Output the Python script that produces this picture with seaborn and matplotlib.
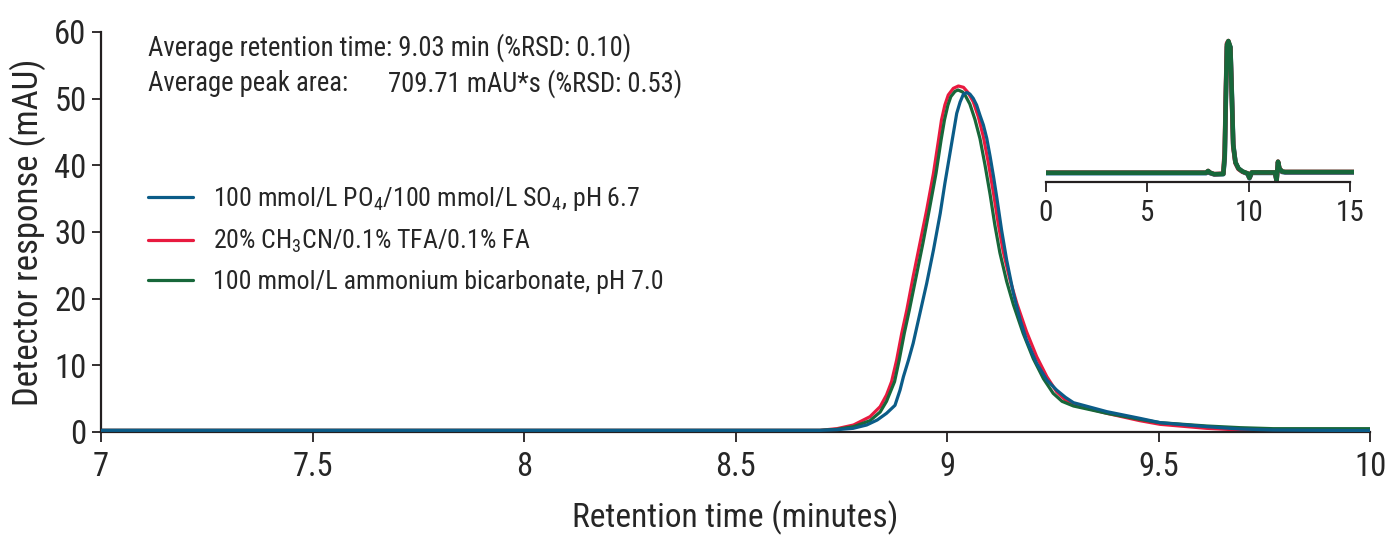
import numpy as np
import pandas as pd
import matplotlib
matplotlib.use("Agg")
import matplotlib.pyplot as plt
import seaborn as sns

# ---- data ----
labels = [r"100 mmol/L PO$_4$/100 mmol/L SO$_4$, pH 6.7",
          r"20% CH$_3$CN/0.1% TFA/0.1% FA",
          "100 mmol/L ammonium bicarbonate, pH 7.0"]
colors = ["#0b5c88", "#e81a3f", "#17673a"]

blue_time = [7.0, 8.70, 8.74, 8.778, 8.81, 8.835, 8.857, 8.877, 8.889, 8.897, 8.909, 8.920,
             8.936, 8.952, 8.968, 8.984, 8.995, 9.007, 9.015, 9.023, 9.031, 9.039, 9.047,
             9.054, 9.062, 9.070, 9.078, 9.086, 9.094, 9.102, 9.110, 9.118, 9.129, 9.141,
             9.157, 9.173, 9.188, 9.212, 9.236, 9.259, 9.280, 9.299, 9.378, 9.456, 9.504,
             9.614, 9.693, 9.771, 10.0]
blue_resp = [0.25, 0.25, 0.35, 0.55, 1.05, 1.8, 2.8, 4.0, 6.3, 8.3, 10.8, 13.3,
             17.8, 22.3, 27.3, 32.8, 37.3, 41.8, 44.8, 47.8, 49.5, 50.7, 50.9,
             50.7, 50.05, 49.05, 47.5, 46.05, 44.05, 41.3, 38.3, 35.05, 30.3, 25.8,
             20.8, 16.8, 13.8, 10.3, 7.8, 6.3, 5.2, 4.4, 3.05, 2.05, 1.4,
             0.8, 0.45, 0.3, 0.2]

red_time = [7.0, 8.70, 8.74, 8.779, 8.818, 8.842, 8.857, 8.869, 8.881, 8.893, 8.905, 8.920,
            8.936, 8.952, 8.968, 8.980, 8.987, 8.995, 9.003, 9.015, 9.027, 9.039, 9.050,
            9.062, 9.074, 9.086, 9.098, 9.110, 9.121, 9.133, 9.149, 9.165, 9.188, 9.212,
            9.236, 9.259, 9.280, 9.299, 9.378, 9.456, 9.504, 9.614, 9.693, 9.771, 10.0]
red_resp = [0.25, 0.25, 0.5, 1.05, 2.3, 3.8, 5.55, 7.55, 10.8, 14.8, 18.3, 23.3,
            28.3, 33.3, 38.8, 43.8, 46.8, 49.05, 50.55, 51.55, 51.9, 51.7, 50.9,
            49.55, 47.3, 44.3, 40.3, 35.8, 31.3, 27.05, 22.8, 19.3, 15.05, 11.3,
            8.3, 6.05, 4.8, 4.1, 2.8, 1.7, 1.15, 0.55, 0.3, 0.3, 0.3]

green_time = [7.0, 8.70, 8.74, 8.779, 8.818, 8.842, 8.857, 8.876, 8.887, 8.899, 8.911, 8.927,
              8.943, 8.958, 8.974, 8.986, 8.994, 9.002, 9.009, 9.019, 9.026, 9.037, 9.043,
              9.054, 9.066, 9.078, 9.090, 9.102, 9.113, 9.125, 9.141, 9.157, 9.180, 9.204,
              9.228, 9.251, 9.272, 9.299, 9.378, 9.456, 9.504, 9.614, 9.693, 9.771, 10.0]
green_resp = [0.25, 0.25, 0.4, 0.8, 1.7, 3.0, 4.6, 7.55, 10.8, 14.8, 18.3, 23.3,
              28.3, 33.3, 38.8, 43.8, 46.8, 49.0, 50.3, 51.1, 51.3, 51.0, 50.5,
              49.2, 46.9, 44.0, 40.0, 35.6, 31.1, 26.9, 22.6, 19.1, 14.8, 11.0,
              8.0, 5.8, 4.6, 3.9, 2.8, 1.9, 1.4, 0.9, 0.65, 0.5, 0.5]

# full 0-15 min run (inset)
inset_time = [0.0, 7.9, 8.0, 8.1, 8.3, 8.75, 8.82, 8.88, 8.93, 9.0, 9.1, 9.17, 9.24,
              9.35, 9.5, 9.7, 9.95, 10.04, 10.15, 11.3, 11.38, 11.45, 11.52, 11.65, 11.8, 15.2]
inset_blue = [0.1, 0.1, 0.8, 0.1, -0.4, -0.3, 6.0, 32.0, 51.5, 53.5, 51.5, 33.0, 12.0,
              4.5, 2.0, 0.7, -0.2, -2.0, 0.2, 0.2, -3.0, 4.5, 1.8, 0.6, 0.4, 0.4]
inset_red = [0.3, 0.3, 1.0, 0.3, -0.3, -0.1, 9.0, 35.0, 53.0, 54.0, 51.0, 31.0, 11.0,
             4.3, 1.8, 0.7, 0.0, -1.8, 0.4, 0.4, -2.8, 4.8, 2.0, 0.8, 0.6, 0.6]
inset_green = [0.3, 0.3, 1.0, 0.3, -0.3, -0.2, 7.5, 33.5, 52.5, 54.0, 51.5, 32.0, 11.5,
               4.5, 2.0, 0.8, 0.0, -1.8, 0.4, 0.4, -2.8, 4.8, 2.0, 0.8, 0.6, 0.6]

main = pd.concat([
    pd.DataFrame({"time": blue_time, "resp": blue_resp, "buffer": labels[0]}),
    pd.DataFrame({"time": red_time, "resp": red_resp, "buffer": labels[1]}),
    pd.DataFrame({"time": green_time, "resp": green_resp, "buffer": labels[2]}),
])
full = pd.concat([
    pd.DataFrame({"time": inset_time, "resp": inset_blue, "buffer": labels[0]}),
    pd.DataFrame({"time": inset_time, "resp": inset_red, "buffer": labels[1]}),
    pd.DataFrame({"time": inset_time, "resp": inset_green, "buffer": labels[2]}),
])

# ---- style ----
sns.set_style("ticks")
plt.rcParams["font.family"] = ["Roboto Condensed", "Roboto", "DejaVu Sans"]
plt.rcParams["mathtext.fontset"] = "custom"
plt.rcParams["mathtext.rm"] = "Roboto Condensed"
plt.rcParams["mathtext.it"] = "Roboto Condensed"
axis_col = "#231f20"
palette = dict(zip(labels, colors))

fig = plt.figure(figsize=(13.9, 5.35), dpi=100)
ax = fig.add_axes([101 / 1390, 103 / 535, 1269 / 1390, 400 / 535])

sns.lineplot(data=main, x="time", y="resp", hue="buffer", hue_order=labels,
             palette=palette, estimator=None, sort=False, lw=2.3, ax=ax)
ax.lines[0].set_zorder(3)
for ln in ax.lines:
    ln.set_solid_joinstyle("round")

ax.set_xlim(7, 10)
ax.set_ylim(0, 60)
ax.set_xticks([7, 7.5, 8, 8.5, 9, 9.5, 10])
ax.set_xticklabels(["7", "7.5", "8", "8.5", "9", "9.5", "10"])
ax.set_yticks(range(0, 61, 10))
sns.despine(ax=ax)
for s in ["left", "bottom"]:
    ax.spines[s].set_linewidth(1.6)
    ax.spines[s].set_color(axis_col)
ax.tick_params(axis="x", length=7, width=1.3, pad=7, labelsize=23.5, color=axis_col)
ax.tick_params(axis="y", length=6.5, width=1.3, pad=4, labelsize=23.5, color=axis_col)
ax.set_xlabel("Retention time (minutes)", fontsize=24, labelpad=12)
ax.set_ylabel("Detector response (mAU)", fontsize=25, labelpad=6)

ax.text(7.111, 57.6, "Average retention time: 9.03 min (%RSD: 0.10)",
        fontsize=19.2, va="center", ha="left")
ax.text(7.111, 52.3, "Average peak area:", fontsize=19.2, va="center", ha="left")
ax.text(7.678, 52.3, "709.71 mAU*s (%RSD: 0.53)", fontsize=19.2, va="center", ha="left")

ax.legend(loc="center left", bbox_to_anchor=(0.037, 0.482), frameon=False,
          fontsize=18.6, handlelength=1.75, handletextpad=0.75, labelspacing=0.58,
          borderpad=0, borderaxespad=0)

# ---- inset: full run ----
ins = fig.add_axes([1046 / 1390, (535 - 182) / 535, 308 / 1390, 152 / 535])
ins.patch.set_alpha(0)
sns.lineplot(data=full, x="time", y="resp", hue="buffer", hue_order=labels,
             palette=palette, estimator=None, sort=False, lw=3.3, ax=ins, legend=False)
ins.set_xlim(0, 15.2)
ins.set_ylim(-3.5, 58.5)
ins.set_xticks([0, 5, 10, 15])
ins.set_yticks([])
ins.set_xlabel("")
ins.set_ylabel("")
for s in ["left", "right", "top"]:
    ins.spines[s].set_visible(False)
ins.spines["bottom"].set_bounds(0, 15)
ins.spines["bottom"].set_linewidth(1.6)
ins.spines["bottom"].set_color(axis_col)
ins.tick_params(axis="x", length=7, width=1.3, pad=5, labelsize=21, color=axis_col)

fig.savefig("out.png", dpi=100)
